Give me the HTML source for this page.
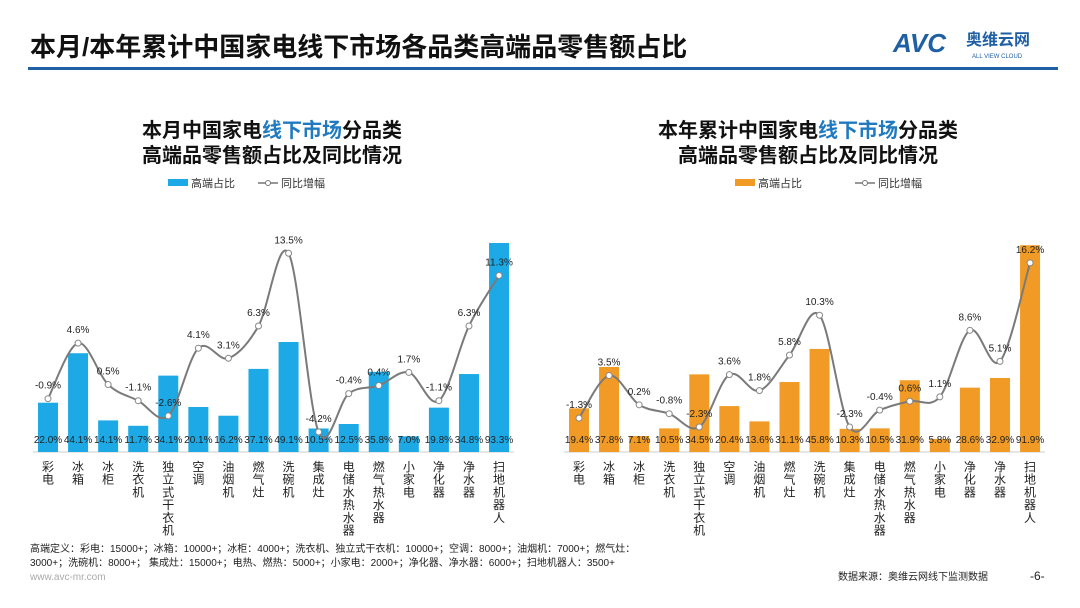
<!DOCTYPE html>
<html><head><meta charset="utf-8"><style>
body{margin:0;background:#fff;}
#wrap{position:relative;width:1080px;height:608px;overflow:hidden;font-family:"Liberation Sans","Noto Sans CJK SC",sans-serif;}
svg text{font-family:"Liberation Sans","Noto Sans CJK SC",sans-serif;}
</style></head><body>
<div id="wrap">
<svg id="svg" width="1080" height="608" viewBox="0 0 1080 608">
  <text x="30" y="56" font-size="26" font-weight="bold" fill="#111">本月/本年累计中国家电线下市场各品类高端品零售额占比</text>
  <rect x="28" y="67" width="1030" height="3" fill="#1f5fa3"/>
  <g>
    <text x="893" y="52" font-size="26" font-weight="bold" font-style="italic" fill="#1f5fa3">AVC</text>
    <text x="966" y="45" font-size="16" font-weight="bold" fill="#1f5fa3">奥维云网</text>
    <text x="972" y="58" font-size="6" fill="#1f5fa3">ALL VIEW CLOUD</text>
  </g>
  <g id="left"></g>
  <g id="right"></g>
  <g font-size="10" fill="#222">
    <text x="30" y="552">高端定义：彩电：15000+；冰箱：10000+；冰柜：4000+；洗衣机、独立式干衣机：10000+；空调：8000+；油烟机：7000+；燃气灶：</text>
    <text x="30" y="566">3000+；洗碗机：8000+；      集成灶：15000+；电热、燃热：5000+；小家电：2000+；净化器、净水器：6000+；扫地机器人：3500+</text>
    <text x="30" y="580" fill="#aaa">www.avc-mr.com</text>
    <text x="838" y="580">数据来源：奥维云网线下监测数据</text>
    <text x="1030" y="580" font-size="12">-6-</text>
  </g>
</svg>
</div>
<script>
const categories=["彩电","冰箱","冰柜","洗衣机","独立式干衣机","空调","油烟机","燃气灶","洗碗机","集成灶","电储水热水器","燃气热水器","小家电","净化器","净水器","扫地机器人"];
const monthShare=[22.0,44.1,14.1,11.7,34.1,20.1,16.2,37.1,49.1,10.5,12.5,35.8,7.0,19.8,34.8,93.3];
const monthGrowth=[-0.9,4.6,0.5,-1.1,-2.6,4.1,3.1,6.3,13.5,-4.2,-0.4,0.4,1.7,-1.1,6.3,11.3];
const ytdShare=[19.4,37.8,7.1,10.5,34.5,20.4,13.6,31.1,45.8,10.3,10.5,31.9,5.8,28.6,32.9,91.9];
const ytdGrowth=[-1.3,3.5,0.2,-0.8,-2.3,3.6,1.8,5.8,10.3,-2.3,-0.4,0.6,1.1,8.6,5.1,16.2];
const NS="http://www.w3.org/2000/svg";
function mk(p,tag,attrs){const e=document.createElementNS(NS,tag);for(const k in attrs)e.setAttribute(k,attrs[k]);p.appendChild(e);return e;}
function draw(gid,share,growth,cfg){
  const g=document.getElementById(gid);
  const xs=i=>cfg.x0+i*cfg.step;
  const ys=v=>cfg.base-v*cfg.sPx;
  const yg=v=>cfg.zero-v*cfg.gPx;
  const t1=mk(g,'text',{x:cfg.cx,y:137,'font-size':20,'font-weight':'bold','text-anchor':'middle',fill:'#111'});
  
  t1.innerHTML=cfg.t1a+'<tspan fill="#1f7ac0">线下市场</tspan>分品类';
  const t2=mk(g,'text',{x:cfg.cx,y:162,'font-size':20,'font-weight':'bold','text-anchor':'middle',fill:'#111'});
  
  t2.textContent='高端品零售额占比及同比情况';
  const l1=mk(g,'g',{});
  mk(l1,'rect',{x:cfg.lx,y:179,width:20,height:7,fill:cfg.color});
  mk(l1,'text',{x:cfg.lx+23,y:187,'font-size':11,fill:'#333'}).textContent='高端占比';
  const l2=mk(g,'g',{});
  mk(l2,'line',{x1:cfg.lx2,y1:183,x2:cfg.lx2+20,y2:183,stroke:'#777','stroke-width':1.5});
  mk(l2,'circle',{cx:cfg.lx2+10,cy:183,r:2.5,fill:'#fff',stroke:'#777'});
  mk(l2,'text',{x:cfg.lx2+23,y:187,'font-size':11,fill:'#333'}).textContent='同比增幅';
  const ax=mk(g,'line',{x1:xs(0)-15,y1:cfg.base,x2:xs(15)+15,y2:cfg.base,stroke:'#ccc'});
  
  share.forEach((v,i)=>{
    const r=mk(g,'rect',{x:xs(i)-10,y:ys(v),width:20,height:cfg.base-ys(v),fill:cfg.color});
    
    const t=mk(g,'text',{x:xs(i),y:cfg.base-9,'font-size':10,'text-anchor':'middle',fill:'#222'});
    
    t.textContent=v.toFixed(1)+'%';
    const c=mk(g,'text',{x:xs(i),'font-size':12,'text-anchor':'middle',fill:'#222'});
    
    [...categories[i]].forEach((ch,k)=>{const ts=mk(c,'tspan',{x:xs(i),y:cfg.base+19+k*12.7});ts.textContent=ch;});
  });
  const pts=growth.map((v,i)=>[xs(i),yg(v)]);
  let d='M'+pts[0][0]+','+pts[0][1];
  for(let i=0;i<pts.length-1;i++){
    const p0=pts[i-1]||pts[i],p1=pts[i],p2=pts[i+1],p3=pts[i+2]||p2;
    const c1=[p1[0]+(p2[0]-p0[0])/6,p1[1]+(p2[1]-p0[1])/6];
    const c2=[p2[0]-(p3[0]-p1[0])/6,p2[1]-(p3[1]-p1[1])/6];
    d+=' C'+c1+' '+c2+' '+p2;
  }
  const ln=mk(g,'path',{d:d,fill:'none',stroke:'#7a7a7a','stroke-width':2});
  
  growth.forEach((v,i)=>{
    const c=mk(g,'circle',{cx:xs(i),cy:yg(v),r:3,fill:'#fff',stroke:'#888','stroke-width':1});
    
    const t=mk(g,'text',{x:xs(i),y:yg(v)-10,'font-size':10,'text-anchor':'middle',fill:'#222'});
    
    t.textContent=v.toFixed(1)+'%';
  });
}
draw('left',monthShare,monthGrowth,{x0:48,step:30.07,base:452,sPx:2.24,zero:389.6,gPx:10.1,color:'#1ca9e6',cx:272,t1a:'本月中国家电',lx:168,lx2:258});
draw('right',ytdShare,ytdGrowth,{x0:579,step:30.07,base:452,sPx:2.25,zero:406.6,gPx:8.87,color:'#f19b26',cx:808,t1a:'本年累计中国家电',lx:735,lx2:855});
</script>
</body></html>
